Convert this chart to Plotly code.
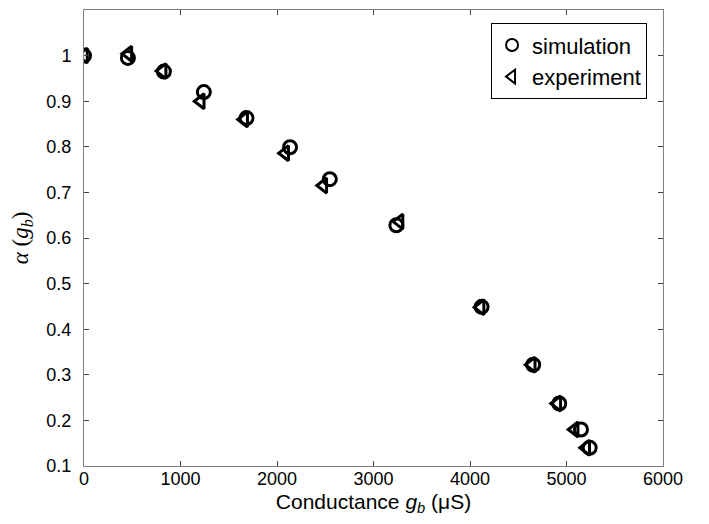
import plotly.graph_objects as go

sim_x = [0, 455, 828, 1242, 1684, 2135, 2547, 3237, 4120, 4655, 4925, 5150, 5240]
sim_y = [1.0, 0.995, 0.965, 0.92, 0.863, 0.799, 0.729, 0.628, 0.449, 0.322, 0.237, 0.18, 0.14]
exp_x = [0, 460, 815, 1210, 1660, 2085, 2480, 3270, 4110, 4640, 4905, 5085, 5205]
exp_y = [1.0, 1.004, 0.966, 0.900, 0.860, 0.786, 0.715, 0.636, 0.448, 0.322, 0.237, 0.18, 0.14]

x_ticks = [0, 1000, 2000, 3000, 4000, 5000, 6000]
y_ticks = [0.1, 0.2, 0.3, 0.4, 0.5, 0.6, 0.7, 0.8, 0.9, 1.0, 1.1]
y_tick_text = ["0.1", "0.2", "0.3", "0.4", "0.5", "0.6", "0.7", "0.8", "0.9", "1", "1.1"]

fig = go.Figure()
fig.add_trace(go.Scatter(
    x=sim_x, y=sim_y, mode="markers", name="simulation",
    marker=dict(symbol="circle-open", size=13, color="black", line=dict(width=3, color="black")),
))
fig.add_trace(go.Scatter(
    x=exp_x, y=exp_y, mode="markers", name="experiment",
    marker=dict(symbol="triangle-left-open", size=13, color="black", line=dict(width=3, color="black")),
))

axis_common = dict(
    showgrid=False, zeroline=False, showline=True, linecolor="#808080", linewidth=1,
    mirror="ticks", ticks="inside", ticklen=5, tickcolor="#404040",
    tickfont=dict(family="Liberation Sans, Arial, sans-serif", size=18, color="black"),
    automargin=False,
)

# page body has an 8px default margin, so the figure is sized/margined to compensate
fig.update_layout(
    width=701, height=516,
    margin=dict(l=76, r=46, t=2, b=58),
    paper_bgcolor="white", plot_bgcolor="white",
    font=dict(family="Liberation Sans, Arial, sans-serif", color="black"),
    xaxis=dict(range=[0, 6000], tickvals=x_ticks, ticklabelstandoff=-4,
               title=dict(text="Conductance <i>g<sub>b</sub></i> (μS)",
                          font=dict(size=21), standoff=6),
               **axis_common),
    yaxis=dict(range=[0.1, 1.1], tickvals=y_ticks, ticktext=y_tick_text,
               ticklabelstandoff=8,
               title=dict(text="<i>α</i> (<i>g<sub>b</sub></i>)",
                          font=dict(family="Liberation Serif, serif", size=23), standoff=14),
               **axis_common),
    legend=dict(x=0.703, y=0.971, xanchor="left", yanchor="top",
                bordercolor="black", borderwidth=1, bgcolor="white",
                font=dict(size=22), itemsizing="constant", tracegroupgap=0),
    showlegend=True,
)

fig.write_html("out.html")
